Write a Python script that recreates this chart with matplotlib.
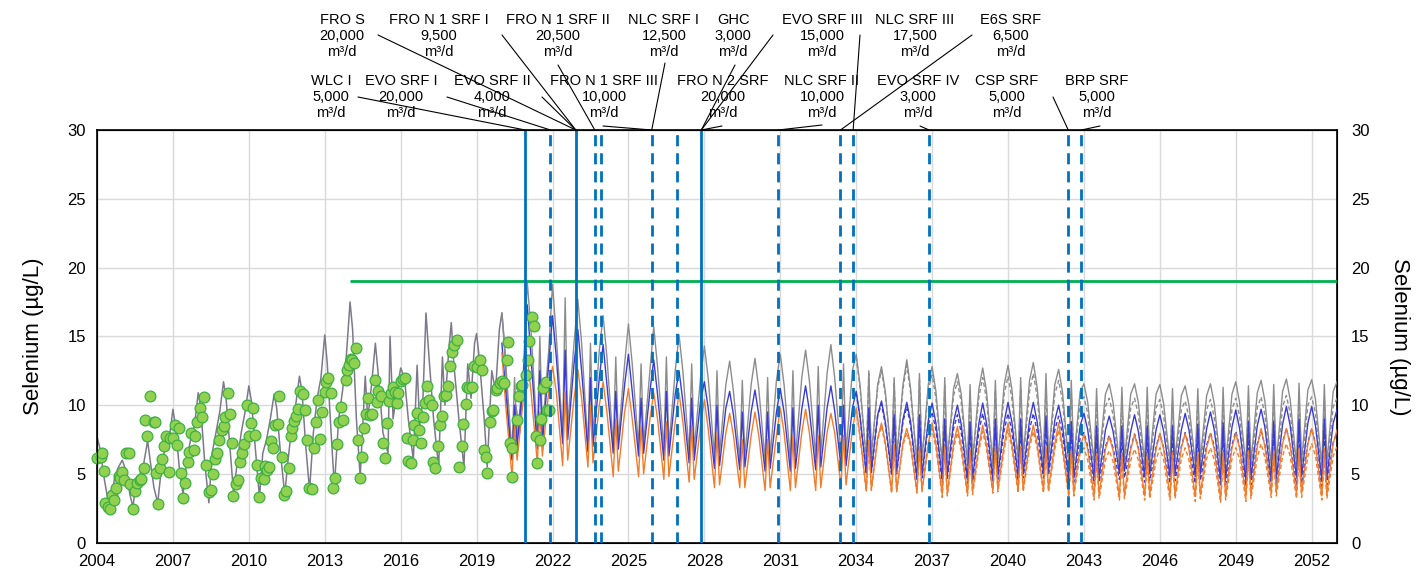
import numpy as np
import matplotlib.pyplot as plt
from matplotlib.patches import ConnectionPatch

plt.rcParams['font.family'] = ['Liberation Sans', 'DejaVu Sans']

# ---- observed selenium (green dots) ----
obs_year = [2004.00, 2004.16, 2004.20, 2004.26, 2004.33, 2004.42, 2004.50, 2004.59, 2004.66, 2004.76,
            2004.86, 2004.92, 2004.99, 2005.08, 2005.16, 2005.25, 2005.32, 2005.42, 2005.51, 2005.58,
            2005.68, 2005.75, 2005.84, 2005.91, 2005.97, 2006.08, 2006.24, 2006.30, 2006.33, 2006.41,
            2006.50, 2006.58, 2006.66, 2006.74, 2006.83, 2006.89, 2007.00, 2007.07, 2007.16, 2007.24,
            2007.32, 2007.39, 2007.49, 2007.58, 2007.64, 2007.71, 2007.82, 2007.88, 2007.97, 2008.08,
            2008.14, 2008.24, 2008.32, 2008.41, 2008.50, 2008.58, 2008.66, 2008.74, 2008.84, 2008.92,
            2009.00, 2009.07, 2009.17, 2009.26, 2009.33, 2009.39, 2009.49, 2009.59, 2009.66, 2009.74,
            2009.82, 2009.92, 2009.99, 2010.08, 2010.16, 2010.25, 2010.32, 2010.41, 2010.49, 2010.58,
            2010.64, 2010.71, 2010.80, 2010.88, 2010.97, 2011.04, 2011.14, 2011.21, 2011.30, 2011.39,
            2011.47, 2011.57, 2011.66, 2011.72, 2011.80, 2011.87, 2011.93, 2012.03, 2012.13, 2012.22,
            2012.29, 2012.38, 2012.49, 2012.58, 2012.66, 2012.72, 2012.82, 2012.91, 2012.99, 2013.05,
            2013.14, 2013.24, 2013.32, 2013.41, 2013.47, 2013.57, 2013.64, 2013.74, 2013.82, 2013.89,
            2013.97, 2014.03, 2014.09, 2014.16, 2014.22, 2014.30, 2014.39, 2014.47, 2014.55, 2014.63,
            2014.72, 2014.79, 2014.88, 2014.99, 2015.05, 2015.12, 2015.21, 2015.29, 2015.38, 2015.47,
            2015.54, 2015.62, 2015.71, 2015.78, 2015.84, 2015.91, 2016.00, 2016.11, 2016.17, 2016.24,
            2016.30, 2016.39, 2016.47, 2016.54, 2016.63, 2016.72, 2016.80, 2016.89, 2016.96, 2017.05,
            2017.13, 2017.22, 2017.29, 2017.37, 2017.46, 2017.55, 2017.63, 2017.71, 2017.79, 2017.88,
            2017.95, 2018.04, 2018.12, 2018.21, 2018.32, 2018.41, 2018.47, 2018.57, 2018.63, 2018.71,
            2018.80, 2018.89, 2019.03, 2019.13, 2019.22, 2019.29, 2019.38, 2019.42, 2019.53, 2019.59,
            2019.66, 2019.75, 2019.82, 2019.92, 2019.99, 2020.08, 2020.19, 2020.25, 2020.32, 2020.41,
            2020.39, 2020.59, 2020.68, 2020.74, 2020.81, 2020.94, 2021.03, 2021.09, 2021.17, 2021.25,
            2021.34, 2021.40, 2021.50, 2021.56, 2021.64, 2021.73, 2021.80, 2021.88]
obs_se = [6.19, 6.26, 6.55, 5.19, 2.91, 2.62, 2.43, 3.47, 3.11, 4.00,
          4.85, 4.68, 5.15, 4.56, 6.55, 6.55, 4.27, 2.43, 3.76, 4.32,
          4.56, 4.61, 5.44, 8.93, 7.77, 10.63, 8.81, 8.76, 5.05, 2.82,
          5.41, 6.07, 7.04, 7.72, 5.17, 7.60, 7.60, 8.57, 7.11, 8.33,
          5.10, 3.25, 4.37, 5.83, 6.60, 7.96, 6.75, 7.77, 8.74, 9.76,
          9.17, 10.56, 5.66, 3.67, 3.83, 5.00, 6.09, 6.50, 7.43, 8.20,
          8.50, 9.13, 10.87, 9.37, 7.28, 3.42, 4.27, 4.56, 5.90, 6.50,
          7.16, 10.02, 7.72, 8.69, 9.78, 7.84, 5.66, 3.30, 4.68, 4.61,
          5.61, 5.29, 5.53, 7.40, 6.87, 8.54, 8.62, 10.63, 6.26, 3.47,
          3.76, 5.41, 7.79, 8.33, 8.88, 9.22, 9.71, 11.00, 10.83, 9.61,
          7.43, 3.96, 3.88, 6.87, 8.81, 10.34, 7.52, 9.47, 10.92, 11.65,
          11.97, 10.87, 3.96, 4.68, 7.16, 8.74, 9.90, 8.93, 11.84, 12.57,
          12.94, 13.37, 13.30, 13.06, 14.17, 7.48, 4.68, 6.21, 8.33, 9.37,
          10.51, 9.30, 9.37, 11.80, 10.22, 11.04, 10.63, 7.23, 6.19, 8.69,
          10.27, 10.87, 11.31, 10.92, 10.19, 10.87, 11.72, 11.89, 11.97, 7.60,
          5.97, 5.78, 7.48, 8.57, 9.42, 8.20, 7.23, 9.17, 10.19, 11.36,
          10.39, 10.02, 5.90, 5.41, 7.04, 8.57, 9.22, 10.63, 10.75, 11.41,
          12.86, 13.83, 14.39, 14.76, 5.53, 7.04, 8.62, 10.10, 11.31, 11.24,
          11.29, 12.86, 12.77, 13.30, 12.57, 6.75, 6.26, 5.05, 8.81, 9.54,
          9.66, 11.12, 11.24, 11.60, 11.72, 11.60, 13.30, 14.56, 7.28, 6.87,
          4.81, 8.93, 10.63, 11.41, 11.48, 12.16, 13.30, 14.68, 16.41, 15.73,
          7.72, 5.78, 7.48, 8.98, 11.24, 11.65, 9.66, 9.66]

# ---- calibrated model (historical grey line) ----
hist_year = [2004.0, 2004.1, 2004.3, 2004.45, 2004.6, 2004.7, 2004.85, 2005.0, 2005.15, 2005.3,
             2005.42, 2005.55, 2005.7, 2005.85, 2006.0, 2006.1, 2006.25, 2006.4, 2006.55, 2006.7,
             2006.85, 2007.0, 2007.1, 2007.25, 2007.4, 2007.55, 2007.7, 2007.85, 2008.0, 2008.1,
             2008.25, 2008.42, 2008.55, 2008.7, 2008.85, 2009.0, 2009.1, 2009.25, 2009.4, 2009.55,
             2009.7, 2009.85, 2010.0, 2010.1, 2010.25, 2010.42, 2010.55, 2010.7, 2010.85, 2011.0,
             2011.1, 2011.25, 2011.42, 2011.55, 2011.7, 2011.85, 2012.0, 2012.1, 2012.25, 2012.4,
             2012.55, 2012.7, 2012.85, 2013.0, 2013.1, 2013.25, 2013.38, 2013.55, 2013.7, 2013.85,
             2014.0, 2014.1, 2014.25, 2014.4, 2014.6, 2014.7, 2014.85, 2015.0, 2015.1, 2015.3,
             2015.5, 2015.58, 2015.7, 2015.85, 2016.0, 2016.15, 2016.3, 2016.5, 2016.65, 2016.75,
             2016.88, 2017.0, 2017.1, 2017.3, 2017.5, 2017.65, 2017.75, 2017.9, 2018.0, 2018.1,
             2018.3, 2018.5, 2018.65, 2018.78, 2018.92, 2019.0, 2019.1, 2019.3, 2019.42, 2019.6,
             2019.75, 2019.9, 2020.0, 2020.1, 2020.25, 2020.4, 2020.55, 2020.7, 2020.85]
hist_se = [7.7, 7.0, 4.5, 2.9, 3.5, 4.8, 5.5, 6.0, 5.2, 3.5,
           2.6, 4.5, 5.0, 5.8, 7.4, 6.0, 4.0, 2.9, 5.5, 7.0,
           7.5, 9.7, 8.5, 5.5, 3.5, 6.0, 7.5, 8.5, 10.9, 9.8,
           6.0, 2.9, 6.5, 8.0, 9.5, 11.7, 10.5, 7.0, 3.5, 6.0,
           8.0, 9.5, 11.4, 10.3, 7.0, 3.3, 6.5, 7.5, 9.0, 10.8,
           9.8, 6.5, 3.5, 6.0, 8.5, 10.0, 12.1, 11.0, 7.0, 3.8,
           8.0, 10.5, 12.0, 15.1, 13.0, 8.0, 4.1, 9.0, 11.0, 13.5,
           17.5, 15.5, 9.0, 4.8, 12.1, 9.0, 11.5, 14.5, 12.5, 8.0,
           6.5, 15.0, 9.0, 11.0, 12.7, 12.0, 9.0, 6.0, 12.9, 8.5,
           10.5, 16.7, 14.0, 9.0, 5.5, 13.5, 10.0, 14.0, 16.0, 13.0,
           9.0, 5.5, 13.0, 10.5, 14.5, 15.2, 13.5, 9.0, 5.5, 12.5,
           11.0, 15.5, 16.7, 14.5, 9.0, 6.1, 10.0, 8.0, 12.0]

# ---- projections: per year [Jan peak, spring, first low, summer spike, second low, autumn] ----
season = [0.0, 0.15, 0.4, 0.5, 0.6, 0.85]

grey_rows = [
    [16.7, 13.0, 6.5, 12.0, 7.5, 12.5], [19.0, 15.5, 7.5, 15.0, 8.0, 14.0],
    [18.8, 15.0, 7.8, 17.8, 8.5, 14.5], [17.7, 14.5, 7.0, 14.5, 7.8, 14.0],
    [16.5, 13.5, 7.0, 13.5, 7.5, 13.0], [15.9, 13.0, 7.0, 13.0, 7.2, 12.5],
    [15.7, 12.8, 6.8, 13.5, 7.0, 12.5], [15.1, 12.5, 6.5, 13.0, 6.8, 12.0],
    [14.3, 12.0, 6.2, 12.5, 6.5, 11.5], [13.2, 11.0, 6.0, 11.8, 6.3, 11.5],
    [13.4, 11.2, 6.0, 12.0, 6.2, 11.8], [13.7, 11.5, 6.0, 12.5, 6.3, 12.0],
    [14.0, 11.8, 6.2, 12.8, 6.5, 12.3], [14.4, 12.0, 6.3, 13.0, 6.5, 12.5],
    [13.7, 11.5, 6.0, 12.5, 6.3, 11.5], [12.8, 11.0, 6.0, 12.0, 6.2, 11.5],
    [13.3, 11.2, 5.8, 12.3, 6.0, 11.5], [12.8, 11.0, 5.8, 12.0, 6.0, 11.2],
    [12.3, 10.8, 5.8, 11.5, 6.0, 11.2], [12.7, 11.0, 5.8, 11.8, 6.0, 11.5],
    [12.9, 11.2, 6.0, 12.0, 6.2, 11.8], [13.1, 11.3, 6.0, 12.3, 6.2, 11.5],
    [12.6, 11.0, 5.8, 11.8, 6.0, 11.0], [11.55, 10.2, 5.8, 11.2, 6.0, 10.8],
    [11.55, 10.2, 5.8, 11.3, 6.0, 10.8], [11.55, 10.2, 5.8, 11.3, 6.0, 10.8],
    [11.5, 10.1, 5.8, 11.2, 6.0, 10.7], [11.4, 10.0, 5.8, 11.2, 6.0, 10.7],
    [11.55, 10.1, 5.6, 11.3, 5.8, 10.8], [11.7, 10.2, 5.6, 11.4, 5.8, 10.9],
    [11.8, 10.3, 5.6, 11.5, 5.8, 11.0], [11.9, 10.4, 5.7, 11.6, 5.9, 11.1],
    [11.85, 10.4, 5.6, 11.5, 5.8, 11.0], [11.7]]
blue_rows = [
    [14.5, 11.0, 6.0, 10.0, 7.0, 12.0], [17.3, 13.5, 6.8, 12.5, 7.2, 13.0],
    [16.5, 13.5, 7.2, 14.0, 7.5, 13.0], [15.5, 12.5, 6.6, 12.0, 7.0, 12.0],
    [14.4, 11.5, 6.5, 11.0, 6.8, 11.5], [13.7, 11.0, 6.3, 10.5, 6.5, 11.0],
    [13.3, 10.8, 6.0, 11.0, 6.3, 10.8], [12.5, 10.3, 5.8, 10.5, 6.0, 10.3],
    [11.7, 9.8, 5.4, 10.0, 5.6, 9.8], [11.0, 9.3, 5.3, 9.5, 5.5, 9.5],
    [11.1, 9.3, 5.2, 9.5, 5.4, 9.5], [11.2, 9.5, 5.2, 9.8, 5.4, 9.7],
    [11.4, 9.6, 5.3, 10.0, 5.5, 9.8], [11.4, 9.6, 5.5, 10.0, 5.6, 9.8],
    [11.0, 9.2, 5.05, 9.8, 5.2, 9.3], [10.3, 8.8, 5.05, 9.3, 5.2, 9.0],
    [10.2, 8.8, 4.7, 9.3, 4.9, 8.9], [10.15, 8.7, 4.7, 9.0, 4.9, 8.8],
    [10.0, 8.6, 4.55, 8.8, 4.7, 8.7], [10.15, 8.7, 4.7, 9.0, 4.9, 8.8],
    [10.2, 8.8, 4.8, 9.0, 5.0, 8.9], [10.2, 8.8, 5.05, 9.2, 5.2, 8.9],
    [10.0, 8.6, 4.55, 8.8, 4.7, 8.5], [9.4, 8.2, 4.7, 8.5, 4.8, 8.2],
    [9.2, 8.1, 5.05, 8.5, 5.2, 8.1], [9.3, 8.1, 4.8, 8.5, 5.0, 8.2],
    [9.3, 8.1, 4.8, 8.5, 5.0, 8.2], [9.4, 8.2, 4.8, 8.6, 5.0, 8.3],
    [9.5, 8.2, 4.55, 8.7, 4.7, 8.4], [9.65, 8.3, 4.55, 8.8, 4.7, 8.5],
    [9.7, 8.4, 4.55, 8.8, 4.7, 8.6], [9.9, 8.5, 4.7, 9.0, 4.8, 8.7],
    [9.9, 8.5, 4.55, 9.0, 4.7, 8.7], [9.65]]
orange_rows = [
    [13.8, 10.0, 4.8, 8.5, 6.0, 10.5], [13.5, 11.0, 5.8, 9.5, 6.3, 11.0],
    [12.8, 11.0, 5.6, 11.0, 6.0, 10.5], [12.6, 10.5, 5.5, 10.0, 5.8, 10.0],
    [11.7, 9.5, 4.8, 9.0, 5.2, 9.5], [11.2, 9.0, 4.8, 8.5, 5.0, 9.0],
    [10.9, 9.0, 4.6, 8.8, 4.8, 8.8], [10.9, 8.8, 4.4, 8.5, 4.6, 8.5],
    [10.4, 8.3, 4.0, 8.0, 4.2, 8.0], [9.4, 7.8, 4.0, 7.5, 4.0, 7.8],
    [9.5, 7.8, 3.8, 7.5, 4.0, 7.8], [9.8, 8.0, 3.8, 7.8, 4.0, 8.0],
    [9.7, 8.0, 3.8, 7.8, 4.0, 8.0], [9.4, 8.0, 4.1, 7.8, 4.2, 8.2],
    [9.8, 7.8, 3.8, 7.5, 3.9, 7.6], [8.7, 7.3, 3.7, 7.2, 3.8, 7.3],
    [8.3, 7.2, 3.7, 7.0, 3.8, 7.2], [8.7, 7.2, 3.5, 7.0, 3.6, 7.2],
    [8.45, 7.0, 3.6, 6.8, 3.7, 7.0], [8.55, 7.1, 3.8, 7.0, 3.9, 7.1],
    [8.7, 7.2, 3.8, 7.0, 3.9, 7.2], [8.55, 7.2, 3.8, 7.0, 3.9, 7.2],
    [8.7, 7.0, 3.5, 6.8, 3.6, 7.0], [7.85, 6.8, 3.4, 6.5, 3.5, 6.8],
    [7.7, 6.7, 3.4, 6.5, 3.5, 6.8], [7.85, 6.8, 3.4, 6.5, 3.5, 6.8],
    [7.95, 6.8, 3.4, 6.6, 3.5, 6.9], [7.95, 6.8, 3.35, 6.6, 3.5, 6.9],
    [7.95, 6.8, 3.2, 6.6, 3.4, 6.9], [7.95, 6.9, 3.35, 6.7, 3.5, 7.0],
    [8.3, 7.0, 3.6, 6.8, 3.7, 7.2], [8.3, 7.1, 3.5, 6.9, 3.6, 7.2],
    [8.3, 7.1, 3.4, 6.9, 3.5, 7.2], [8.2]]

# alternative scenario (dashed), from 2034
grey_alt_rows = [
    [13.5, 11.3, 6.0, 12.3, 6.2, 11.3], [12.5, 10.8, 5.9, 11.7, 6.1, 11.2],
    [12.9, 10.9, 5.7, 11.9, 5.9, 11.1], [12.2, 10.5, 5.6, 11.4, 5.8, 10.7],
    [11.7, 10.2, 5.6, 10.9, 5.8, 10.6], [12.0, 10.4, 5.6, 11.1, 5.8, 10.8],
    [12.1, 10.5, 5.7, 11.2, 5.9, 11.0], [12.3, 10.6, 5.7, 11.5, 5.9, 10.8],
    [11.8, 10.3, 5.5, 11.0, 5.7, 10.2], [10.6, 9.4, 5.4, 10.2, 5.6, 9.9],
    [10.5, 9.3, 5.4, 10.2, 5.6, 9.8], [10.5, 9.3, 5.3, 10.2, 5.5, 9.8],
    [10.4, 9.2, 5.3, 10.1, 5.5, 9.7], [10.3, 9.1, 5.3, 10.1, 5.5, 9.7],
    [10.4, 9.1, 5.1, 10.2, 5.3, 9.7], [10.5, 9.2, 5.1, 10.3, 5.3, 9.8],
    [10.6, 9.3, 5.1, 10.4, 5.3, 9.9], [10.7, 9.4, 5.2, 10.5, 5.4, 10.0],
    [10.6, 9.4, 5.1, 10.4, 5.3, 9.9], [10.5]]
blue_alt_rows = [
    [10.9, 9.1, 5.0, 9.7, 5.1, 9.2], [10.1, 8.6, 4.9, 9.1, 5.0, 8.8],
    [9.9, 8.5, 4.5, 9.0, 4.7, 8.6], [9.5, 8.2, 4.4, 8.5, 4.6, 8.3],
    [9.3, 8.0, 4.3, 8.2, 4.4, 8.1], [9.4, 8.1, 4.4, 8.4, 4.6, 8.2],
    [9.4, 8.1, 4.5, 8.3, 4.7, 8.2], [9.4, 8.1, 4.7, 8.5, 4.9, 8.2],
    [9.2, 7.9, 4.3, 8.1, 4.4, 7.6], [8.0, 7.0, 4.3, 7.3, 4.4, 7.0],
    [7.8, 6.9, 4.6, 7.3, 4.7, 6.9], [7.9, 6.9, 4.4, 7.3, 4.5, 7.0],
    [7.9, 6.9, 4.3, 7.3, 4.5, 7.0], [8.0, 7.0, 4.3, 7.4, 4.5, 7.1],
    [8.0, 7.0, 4.1, 7.5, 4.2, 7.1], [8.1, 7.0, 4.1, 7.5, 4.2, 7.2],
    [8.1, 7.1, 4.1, 7.5, 4.2, 7.3], [8.3, 7.2, 4.2, 7.7, 4.3, 7.3],
    [8.3, 7.2, 4.1, 7.7, 4.2, 7.3], [8.0]]
orange_alt_rows = [
    [9.7, 7.7, 3.7, 7.4, 3.8, 7.5], [8.5, 7.1, 3.6, 7.0, 3.7, 7.1],
    [8.0, 7.0, 3.6, 6.8, 3.7, 7.0], [8.3, 6.9, 3.3, 6.7, 3.4, 6.9],
    [8.0, 6.7, 3.4, 6.5, 3.5, 6.7], [8.1, 6.8, 3.6, 6.7, 3.7, 6.8],
    [8.2, 6.9, 3.6, 6.7, 3.7, 6.9], [8.1, 6.9, 3.6, 6.7, 3.7, 6.8],
    [8.2, 6.7, 3.3, 6.5, 3.4, 6.5], [6.9, 6.0, 3.1, 5.8, 3.2, 6.0],
    [6.7, 5.9, 3.1, 5.8, 3.2, 6.0], [6.8, 6.0, 3.1, 5.8, 3.2, 6.0],
    [6.9, 6.0, 3.1, 5.9, 3.2, 6.1], [6.9, 6.0, 3.0, 5.9, 3.2, 6.1],
    [6.9, 6.0, 2.9, 5.9, 3.1, 6.1], [6.9, 6.1, 3.0, 6.0, 3.2, 6.2],
    [7.2, 6.2, 3.3, 6.0, 3.4, 6.3], [7.2, 6.3, 3.2, 6.1, 3.3, 6.3],
    [7.2, 6.3, 3.1, 6.1, 3.2, 6.3], [7.0]]

# ---- treatment facilities (label, capacity, date on line) ----
plants = [
    ('WLC I', '5,000', 2020.92), ('EVO SRF I', '20,000', 2021.92),
    ('FRO S', '20,000', 2022.92), ('FRO N 1 SRF I', '9,500', 2022.92),
    ('EVO SRF II', '4,000', 2022.92), ('FRO N 1 SRF II', '20,500', 2023.67),
    ('FRO N 1 SRF III', '10,000', 2025.92), ('NLC SRF I', '12,500', 2025.92),
    ('GHC', '3,000', 2027.88), ('FRO N 2 SRF', '20,000', 2027.88),
    ('EVO SRF III', '15,000', 2027.88), ('NLC SRF II', '10,000', 2030.92),
    ('NLC SRF III', '17,500', 2033.88), ('E6S SRF', '6,500', 2033.38),
    ('EVO SRF IV', '3,000', 2036.88), ('CSP SRF', '5,000', 2042.38),
    ('BRP SRF', '5,000', 2042.9),
]
solid_dates = [2020.92, 2022.92, 2027.88]
dashed_dates = [2021.92, 2023.67, 2023.92, 2025.92, 2026.92, 2030.92,
                2033.38, 2033.88, 2036.88, 2042.38, 2042.9]
limit_value = 19.0
limit_start = 2014.0


def build(start, rows):
    xs, ys = [], []
    for i, row in enumerate(rows):
        for frac, v in zip(season, row):
            xs.append(start + i + frac)
            ys.append(v)
    return xs, ys


W, H = 1417, 579
fig = plt.figure(figsize=(W / 100, H / 100), dpi=100)
ax = fig.add_axes([97 / W, 1 - 542.7 / H, 1240 / W, 412.7 / H])

ax.plot(hist_year, hist_se, color='#7d798a', lw=1.1, zorder=3)
for rows, start, col, ls in [(grey_rows, 2020, '#8c8c8c', '-'), (grey_alt_rows, 2034, '#8c8c8c', (0, (3, 2))),
                             (blue_rows, 2020, '#3a3ad4', '-'), (blue_alt_rows, 2034, '#3a3ad4', (0, (3, 2))),
                             (orange_rows, 2020, '#f07c2c', '-'), (orange_alt_rows, 2034, '#f07c2c', (0, (3, 2)))]:
    xs, ys = build(start, rows)
    ax.plot(xs, ys, color=col, lw=1.0, ls=ls, zorder=3)

ax.scatter(obs_year, obs_se, s=60, color='#92d050', edgecolors='#3cb043', linewidths=0.9,
           zorder=5, clip_on=False)
ax.hlines(limit_value, limit_start, 2053, color='#00b050', lw=2, zorder=4)

for d in solid_dates:
    ax.axvline(d, color='#0070c0', lw=2, zorder=6)
for d in dashed_dates:
    ax.axvline(d, color='#0070c0', lw=2, ls=(0, (4, 2.5)), zorder=6)

ax.set_xlim(2004, 2053)
ax.set_ylim(0, 30)
ax.set_xticks(np.arange(2004, 2053, 3))
ax.set_yticks(np.arange(0, 31, 5))
ax.grid(color='#d9d9d9', lw=1)
ax.set_axisbelow(True)
ax.tick_params(length=0, labelsize=12, pad=8)
ax.set_ylabel('Selenium (µg/L)', fontsize=16, labelpad=17)
for s in ax.spines.values():
    s.set_color('black')
    s.set_linewidth(1.2)

ax2 = ax.twinx()
ax2.set_ylim(0, 30)
ax2.set_yticks(np.arange(0, 31, 5))
ax2.tick_params(length=0, labelsize=12, pad=10)
ax2.set_ylabel('Selenium (µg/L)', fontsize=16, rotation=270, labelpad=29)

# facility callouts: label centre and leader start, figure pixels from the top-left
callouts = {
    'WLC I': (331, 97, 358, 97), 'EVO SRF I': (401, 97, 447, 97),
    'EVO SRF II': (492, 97, 542, 97), 'FRO S': (342, 36, 378, 35),
    'FRO N 1 SRF I': (439, 36, 502, 35), 'FRO N 1 SRF II': (558, 36, 558, 65),
    'FRO N 1 SRF III': (604, 97, 603, 126), 'NLC SRF I': (664, 36, 665, 63),
    'GHC': (733, 36, 735, 65), 'FRO N 2 SRF': (723, 97, 722, 126),
    'EVO SRF III': (822, 36, 773, 35), 'NLC SRF II': (822, 97, 822, 125),
    'NLC SRF III': (915, 36, 860, 35), 'E6S SRF': (1011, 36, 972, 35),
    'EVO SRF IV': (918, 97, 920, 126), 'CSP SRF': (1007, 97, 1053, 97),
    'BRP SRF': (1097, 97, 1100, 126),
}
for name, cap, date in plants:
    cx, cy, sx, sy = callouts[name]
    fig.text(cx / W, 1 - cy / H, f'{name}\n{cap}\nm³/d', ha='center', va='center',
             fontsize=10.5, linespacing=1.22)
    con = ConnectionPatch(xyA=(sx, H - sy), coordsA='figure pixels', xyB=(date, 30),
                          coordsB=ax.transData, color='black', lw=0.8, zorder=10)
    fig.add_artist(con)

fig.savefig('out.png', dpi=100)
